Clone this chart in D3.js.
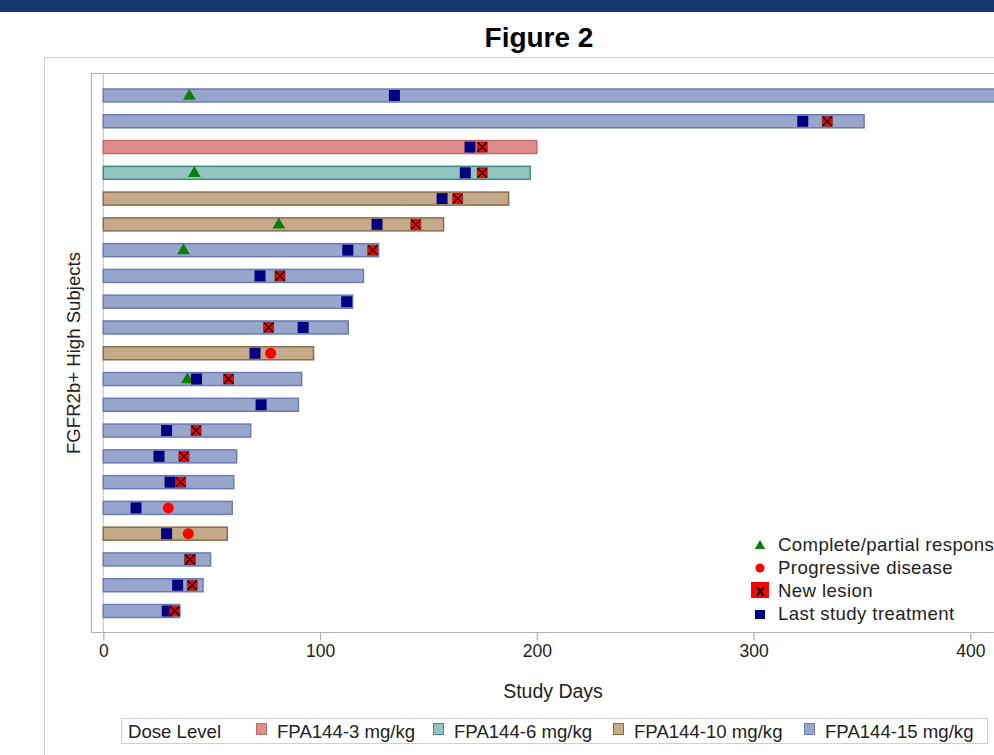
<!DOCTYPE html>
<html>
<head>
<meta charset="utf-8">
<script src="https://cdn.jsdelivr.net/npm/d3@7"></script>
<style>
  html, body { margin: 0; padding: 0; background: #fff; overflow: hidden; }
  svg { display: block; }
  text { font-family: "Liberation Sans", Arial, Helvetica, sans-serif; fill: #222; }
</style>
</head>
<body>
<svg id="chart" width="994" height="755"></svg>
<script>
// Dose groups shown in the bottom legend
const doseLevels = ["FPA144-3 mg/kg", "FPA144-6 mg/kg", "FPA144-10 mg/kg", "FPA144-15 mg/kg"];

// One entry per subject, top row first
const subjectDose = [
  "FPA144-15 mg/kg", "FPA144-15 mg/kg", "FPA144-3 mg/kg", "FPA144-6 mg/kg",
  "FPA144-10 mg/kg", "FPA144-10 mg/kg", "FPA144-15 mg/kg", "FPA144-15 mg/kg",
  "FPA144-15 mg/kg", "FPA144-15 mg/kg", "FPA144-10 mg/kg", "FPA144-15 mg/kg",
  "FPA144-15 mg/kg", "FPA144-15 mg/kg", "FPA144-15 mg/kg", "FPA144-15 mg/kg",
  "FPA144-15 mg/kg", "FPA144-10 mg/kg", "FPA144-15 mg/kg", "FPA144-15 mg/kg",
  "FPA144-15 mg/kg"
];
const studyDays = [445, 351, 200, 197, 187, 157, 127, 120, 115, 113, 97, 91.5, 90, 68, 61.5, 60.2, 59.5, 57.2, 49.5, 46, 35.2];
const responseDay = [39.7, null, null, 42, null, 81, 37, null, null, null, null, 38.8, null, null, null, null, null, null, null, null, null];
const progressionDay = [null, null, null, null, null, null, null, null, null, null, 77.2, null, null, null, null, null, 30, 39.2, null, null, null];
const newLesionDay = [null, 334, 174.8, 174.8, 163.5, 144.2, 124.3, 81.5, null, 76.3, null, 57.8, null, 42.8, 37.2, 35.7, null, null, 40, 41, 33];
const lastTreatmentDay = [134.3, 322.7, 169.2, 167, 156.3, 126.3, 112.8, 72.3, 112.3, 92.2, 70, 43, 72.8, 29.2, 25.7, 30.8, 15.1, 29.2, 40, 34.3, 29.5];

const xTicks = [0, 100, 200, 300, 400];
const markerLegend = ["Complete/partial response", "Progressive disease", "New lesion", "Last study treatment"];

// Styling for dose groups
const doseFill = ["#e08c8c", "#95c4be", "#c4aa8a", "#98a6cb"];
const doseStroke = ["#c46a6a", "#3f8d85", "#8b6d47", "#6b7bb6"];

const svg = d3.select("#chart");
const font = "'Liberation Sans', Arial, Helvetica, sans-serif";

// top banner
svg.append("rect").attr("x", 0).attr("y", 0).attr("width", 994).attr("height", 12).attr("fill", "#16366b");

// title
svg.append("text")
  .attr("x", 539).attr("y", 47)
  .attr("text-anchor", "middle")
  .style("font-size", "28px").style("font-weight", "bold").style("fill", "#000")
  .text("Figure 2");

// outer graph frame
svg.append("rect")
  .attr("x", 44.5).attr("y", 57.5).attr("width", 1100).attr("height", 800)
  .attr("fill", "none").attr("stroke", "#d2d2d2").attr("stroke-width", 1);

const x = d3.scaleLinear().domain([0, 400]).range([103.3, 970.3]);
const y = d3.scalePoint().domain(d3.range(studyDays.length)).range([95.5, 611]);
const color = d3.scaleOrdinal().domain(doseLevels).range(doseFill);
const stroke = d3.scaleOrdinal().domain(doseLevels).range(doseStroke);

const plotTop = 73.5, plotBottom = 632.5, plotLeft = 91.5;

// zero reference line
svg.append("line")
  .attr("x1", x(0)).attr("x2", x(0)).attr("y1", plotTop).attr("y2", plotBottom)
  .attr("stroke", "#c8c8c8").attr("stroke-width", 1.2);

// plot frame
svg.append("path")
  .attr("d", `M1100,${plotTop}H${plotLeft}V${plotBottom}H1100`)
  .attr("fill", "none").attr("stroke", "#b2b2b2").attr("stroke-width", 1.2);

// x axis
const xAxis = d3.axisBottom(x).tickValues(xTicks).tickSize(8).tickPadding(4).tickFormat(d3.format("d"));
const gx = svg.append("g").attr("transform", `translate(0,${plotBottom})`).call(xAxis);
gx.select(".domain").remove();
gx.selectAll(".tick line").attr("stroke", "#b2b2b2").attr("stroke-width", 1.2);
gx.selectAll(".tick text")
  .style("font-family", font).style("font-size", "17.5px").style("fill", "#222")
  .attr("dy", "0.71em");

svg.append("text")
  .attr("x", 553).attr("y", 698)
  .attr("text-anchor", "middle")
  .style("font-size", "19.5px")
  .text("Study Days");

svg.append("text")
  .attr("transform", "translate(80,353) rotate(-90)")
  .attr("text-anchor", "middle")
  .style("font-size", "18.6px")
  .text("FGFR2b+ High Subjects");

// swimmer bars
const rows = studyDays.map((d, i) => ({
  i, days: d, dose: subjectDose[i],
  resp: responseDay[i], pd: progressionDay[i], nl: newLesionDay[i], last: lastTreatmentDay[i]
}));

svg.append("g").selectAll("rect").data(rows).join("rect")
  .attr("x", x(0))
  .attr("y", d => y(d.i) - 6.5)
  .attr("width", d => x(d.days) - x(0))
  .attr("height", 13)
  .attr("fill", d => color(d.dose))
  .attr("stroke", d => stroke(d.dose))
  .attr("stroke-width", 1.5);

// response triangles
const tri = d3.symbol().type(d3.symbolTriangle).size(70);
svg.append("g").selectAll("path").data(rows.filter(d => d.resp != null)).join("path")
  .attr("d", tri)
  .attr("transform", d => `translate(${x(d.resp)},${y(d.i) + 0.5})`)
  .attr("fill", "#0a800a");

// progressive disease circles
svg.append("g").selectAll("circle").data(rows.filter(d => d.pd != null)).join("circle")
  .attr("cx", d => x(d.pd)).attr("cy", d => y(d.i))
  .attr("r", 5.5).attr("fill", "#ff0000");

// last study treatment squares
svg.append("g").selectAll("rect").data(rows.filter(d => d.last != null)).join("rect")
  .attr("x", d => x(d.last) - 5.5).attr("y", d => y(d.i) - 5.5)
  .attr("width", 11).attr("height", 11)
  .attr("fill", "#000080");

// new lesion markers
const nl = svg.append("g").selectAll("g").data(rows.filter(d => d.nl != null)).join("g")
  .attr("transform", d => `translate(${x(d.nl)},${y(d.i)})`);
nl.append("rect").attr("x", -5).attr("y", -5).attr("width", 10).attr("height", 10)
  .attr("fill", "#ff0000").attr("stroke", "#6a3030").attr("stroke-width", 0.8);
nl.append("path").attr("d", "M-4.5,-4.5L4.5,4.5M-4.5,4.5L4.5,-4.5")
  .attr("stroke", "#000").attr("stroke-width", 1.3);

// marker legend
const lg = svg.append("g");
const lgBase = [551, 573.5, 596.5, 619.5];
lg.selectAll("text").data(markerLegend).join("text")
  .attr("x", 778).attr("y", (d, i) => lgBase[i])
  .style("font-size", "18.6px").style("letter-spacing", "0.4px")
  .text(d => d);
lg.append("path").attr("d", d3.symbol().type(d3.symbolTriangle).size(48))
  .attr("transform", "translate(760,546)").attr("fill", "#0a800a");
lg.append("circle").attr("cx", 760).attr("cy", 568).attr("r", 4.5).attr("fill", "#ff0000");
lg.append("rect").attr("x", 751).attr("y", 582).attr("width", 18).attr("height", 16).attr("fill", "#ff0000");
lg.append("text").attr("x", 760).attr("y", 596).attr("text-anchor", "middle")
  .style("font-size", "17px").style("font-weight", "bold").style("fill", "#000").text("x");
lg.append("rect").attr("x", 755).attr("y", 610).attr("width", 10).attr("height", 9).attr("fill", "#000080");

// dose legend
svg.append("rect").attr("x", 121.5).attr("y", 718.5).attr("width", 866).attr("height", 25)
  .attr("fill", "#fff").attr("stroke", "#d0d0d0").attr("stroke-width", 1);
svg.append("text").attr("x", 128).attr("y", 738).style("font-size", "18.6px").text("Dose Level");
const swatchX = [256, 433, 613, 804];
const dl = svg.append("g").selectAll("g").data(doseLevels).join("g")
  .attr("transform", (d, i) => `translate(${swatchX[i]},0)`);
dl.append("rect").attr("x", 0.5).attr("y", 723.5).attr("width", 10).attr("height", 11)
  .attr("fill", d => color(d)).attr("stroke", d => stroke(d)).attr("stroke-width", 1);
dl.append("text").attr("x", 21).attr("y", 738).style("font-size", "18.6px").text(d => d);
</script>
</body>
</html>
